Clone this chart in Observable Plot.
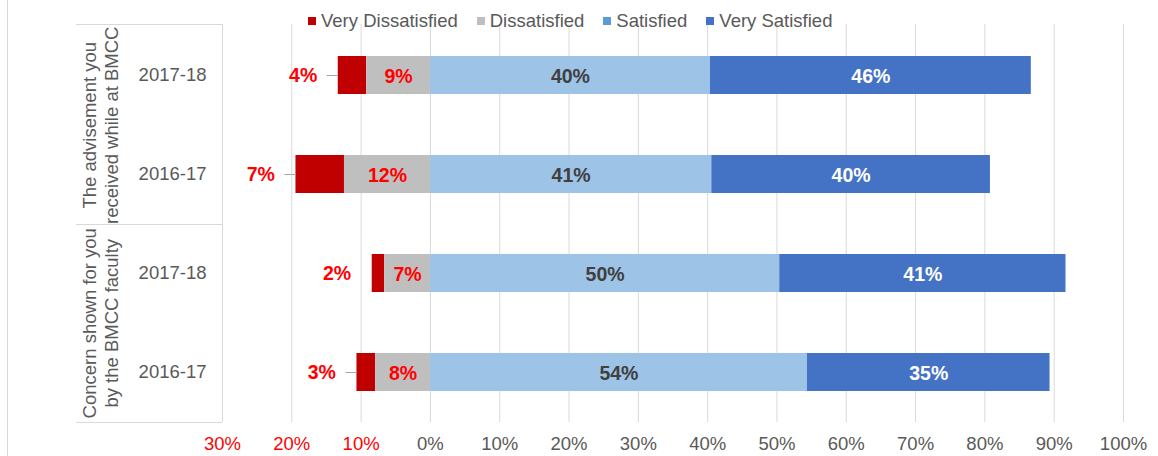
<!DOCTYPE html>
<html>
<head>
<meta charset="utf-8">
<script src="https://cdn.jsdelivr.net/npm/d3@7"></script>
<script src="https://cdn.jsdelivr.net/npm/@observablehq/plot@0.6"></script>
<style>
  body { margin: 0; background: #fff; }
  #wrap { position: relative; width: 1158px; height: 456px; font-family: "Liberation Sans", Arial, sans-serif; }
  #border { position: absolute; left: 7px; top: 0; width: 1px; height: 456px; background: #d9d9d9; }
  #legend { position: absolute; left: 308px; top: 10px; display: flex; align-items: center; font-size: 18.5px; color: #595959; line-height: 22px; z-index: 2; }
  #legend .item { display: flex; align-items: center; margin-right: 19px; }
  #legend .sw { width: 8px; height: 8px; margin-right: 5px; }
  #chart { position: absolute; left: 0; top: 0; }
</style>
</head>
<body>
<div id="wrap">
  <div id="border"></div>
  <div id="legend"></div>
  <div id="chart"></div>
</div>
<script>
// ---- data ----
const questions = ["The advisement you\nreceived while at BMCC", "Concern shown for you\nby the BMCC faculty"];
const years = ["2017-18", "2016-17"];
const seriesNames = ["Very Dissatisfied", "Dissatisfied", "Satisfied", "Very Satisfied"];
// rows: [advisement 2017-18, advisement 2016-17, concern 2017-18, concern 2016-17]
const veryDissatisfied = [4.1, 7.0, 1.8, 2.7];
const dissatisfied = [9.2, 12.4, 6.6, 7.9];
const satisfied = [40.4, 40.6, 50.4, 54.4];
const verySatisfied = [46.3, 40.2, 41.3, 35.0];
const hasLeaderLine = [true, true, false, true];
const xTicks = [-0.3, -0.2, -0.1, 0, 0.1, 0.2, 0.3, 0.4, 0.5, 0.6, 0.7, 0.8, 0.9, 1.0];

// ---- styles ----
const barColors = ["#c00000", "#bfbfbf", "#9dc3e6", "#4472c4"];
const legendColors = ["#c00000", "#bfbfbf", "#5b9bd5", "#4472c4"];
const labelColors = ["#ff0000", "#ff0000", "#404040", "#ffffff"];
const FONT = "'Liberation Sans', Arial, sans-serif";

// legend
const legend = document.getElementById("legend");
seriesNames.forEach((s, i) => {
  const it = document.createElement("div");
  it.className = "item";
  const sw = document.createElement("div");
  sw.className = "sw";
  sw.style.background = legendColors[i];
  const tx = document.createElement("span");
  tx.textContent = s;
  it.appendChild(sw); it.appendChild(tx);
  legend.appendChild(it);
});

// build rows and segments
const rows = [];
questions.forEach((q, qi) => years.forEach((yr, yi) => {
  rows.push({q, yr, key: qi + "|" + yr, i: qi * years.length + yi});
}));
const keys = rows.map(r => r.key);
const segs = [];
rows.forEach(r => {
  const vd = veryDissatisfied[r.i], d = dissatisfied[r.i], s = satisfied[r.i], vs = verySatisfied[r.i];
  segs.push({key: r.key, series: seriesNames[0], si: 0, v: vd, x1: -(d + vd) / 100, x2: -d / 100, leader: hasLeaderLine[r.i]});
  segs.push({key: r.key, series: seriesNames[1], si: 1, v: d, x1: -d / 100, x2: 0});
  segs.push({key: r.key, series: seriesNames[2], si: 2, v: s, x1: 0, x2: s / 100});
  segs.push({key: r.key, series: seriesNames[3], si: 3, v: vs, x1: s / 100, x2: (s + vs) / 100});
});
const lbl = d => Math.round(d.v) + "%";
const pct = d => Math.round(Math.abs(d) * 100) + "%";
const groupRows = questions.map((q, qi) => ({q, key: rows.find(r => r.q === q).key}));

const marginLeft = 222, marginTop = 24, marginBottom = 34;
const chart = Plot.plot({
  width: 1158,
  height: 456,
  marginLeft, marginRight: 35, marginTop, marginBottom,
  style: {fontFamily: FONT, fontSize: "18.5px", background: "transparent"},
  x: {domain: [-0.3, 1.0]},
  y: {domain: keys, paddingInner: 0.62, paddingOuter: 0.31},
  color: {domain: seriesNames, range: barColors},
  marks: [
    Plot.gridX({ticks: xTicks, stroke: "#d9d9d9", strokeOpacity: 1, strokeWidth: 1}),
    Plot.barX(segs, {x1: "x1", x2: "x2", y: "key", fill: "series"}),
    // Very dissatisfied labels (outside left)
    Plot.text(segs.filter(d => d.si === 0), {x: "x1", y: "key", text: lbl, textAnchor: "end", dx: -21, fill: labelColors[0], fontWeight: "bold", fontSize: 19.5, fontFamily: FONT}),
    // other labels centered
    Plot.text(segs.filter(d => d.si > 0), {x: d => (d.x1 + d.x2) / 2, y: "key", text: lbl, fill: d => labelColors[d.si], fontWeight: "bold", fontSize: 19.5, fontFamily: FONT, dy: 1}),
    Plot.axisY({tickSize: 0, tickPadding: 16, tickFormat: k => k.split("|")[1], fill: "#595959", fontSize: 18.5, fontFamily: FONT, label: null}),
    Plot.text(groupRows, {y: "key", text: "q", frameAnchor: "left", textAnchor: "middle", dx: -123, dy: 49.75, rotate: -90, lineHeight: 1.2, fill: "#595959", fontSize: 18.5, fontFamily: FONT}),
    Plot.axisX({ticks: xTicks.filter(t => t < 0), tickFormat: pct, tickSize: 0, tickPadding: 14, fill: "#ff0000", fontSize: 18.5, fontFamily: FONT, label: null}),
    Plot.axisX({ticks: xTicks.filter(t => t >= 0), tickFormat: pct, tickSize: 0, tickPadding: 14, fill: "#595959", fontSize: 18.5, fontFamily: FONT, label: null})
  ]
});

// decorations positioned from the chart's scales
const sx = chart.scale("x");
const sy = chart.scale("y");
const bw = sy.bandwidth;
const yTop = sy.range[0], yBot = sy.range[1];
const yMid = (sy.apply(keys[1]) + bw + sy.apply(keys[2])) / 2;
const svg = d3.select(chart);
// table lines of the category area
const g = svg.append("g").attr("stroke", "#d9d9d9").attr("stroke-width", 1);
[yTop, yMid, yBot].forEach(yv => {
  g.append("line").attr("x1", 76).attr("x2", marginLeft).attr("y1", Math.round(yv) + 0.5).attr("y2", Math.round(yv) + 0.5);
});
// leader lines from the outside labels to their bars
const gl = svg.append("g").attr("stroke", "#a6a6a6").attr("stroke-width", 1);
segs.filter(d => d.si === 0 && d.leader).forEach(d => {
  const xb = sx.apply(d.x1);
  const yc = Math.round(sy.apply(d.key) + bw / 2) + 0.5;
  gl.append("line").attr("x1", xb - 11).attr("x2", xb).attr("y1", yc).attr("y2", yc);
});

document.getElementById("chart").appendChild(chart);
</script>
</body>
</html>
